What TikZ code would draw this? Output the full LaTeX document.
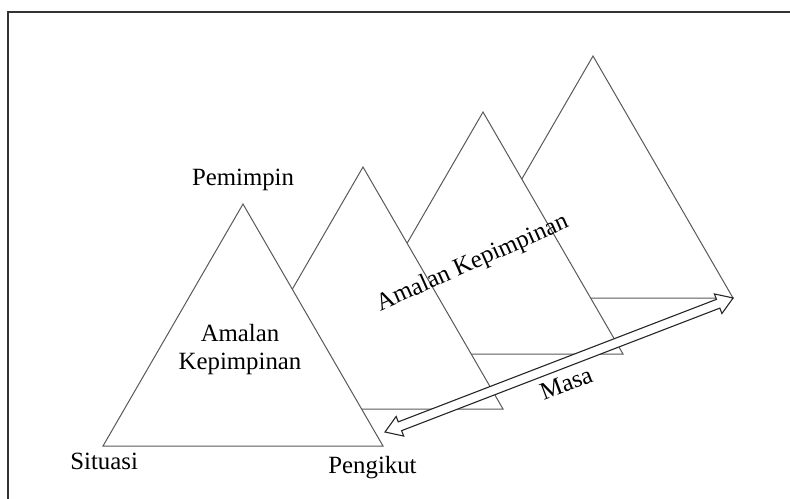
\documentclass[tikz,border=0pt]{standalone}
\usepackage{fontspec}
\setmainfont{Liberation Serif}

\begin{document}
\begin{tikzpicture}[x=0.5pt,y=-0.5pt,every node/.style={font=\fontsize{12.4}{14}\selectfont,inner sep=0pt},
  tri/.style={draw=black!65,fill=white,line width=0.5pt},
  timearrow/.style={draw=black!85,fill=white,line width=0.55pt,line join=miter}]
  \clip (0,0) rectangle (790,498);
  \draw[black!80,line width=0.6pt] (8,12) rectangle (800,510);
  % triangles, back to front
  \foreach \ax/\ay in {593/56,483/112,363/167,243/204}
    \draw[tri] (\ax,\ay) -- ++(140,242) -- ++(-280,0) -- cycle;
  \node[anchor=base] (pemimpin) at (243,185) {Pemimpin};
  \node[align=center] (amalan) at (240,350) {Amalan\\Kepimpinan};
  \node[anchor=base west] (situasi) at (70,469) {Situasi};
  \node[anchor=base west] (pengikut) at (328,473) {Pengikut};
  \node[rotate=24,anchor=base] (amalan2) at (475,269) {Amalan Kepimpinan};
  % time arrow
  \coordinate (past) at (385,432);
  \coordinate (future) at (733,298);
  \begin{scope}[shift={(past)},rotate=21.06]
    \draw[timearrow] (0,0) -- (16,-10.5) -- (16,-4.7) -- (357,-4.7) -- (357,-10.5) -- (373,0)
      -- (357,10.5) -- (357,4.7) -- (16,4.7) -- (16,10.5) -- cycle;
  \end{scope}
  \node[rotate=21,anchor=base] (masa) at (569,391) {Masa};
\end{tikzpicture}
\end{document}
